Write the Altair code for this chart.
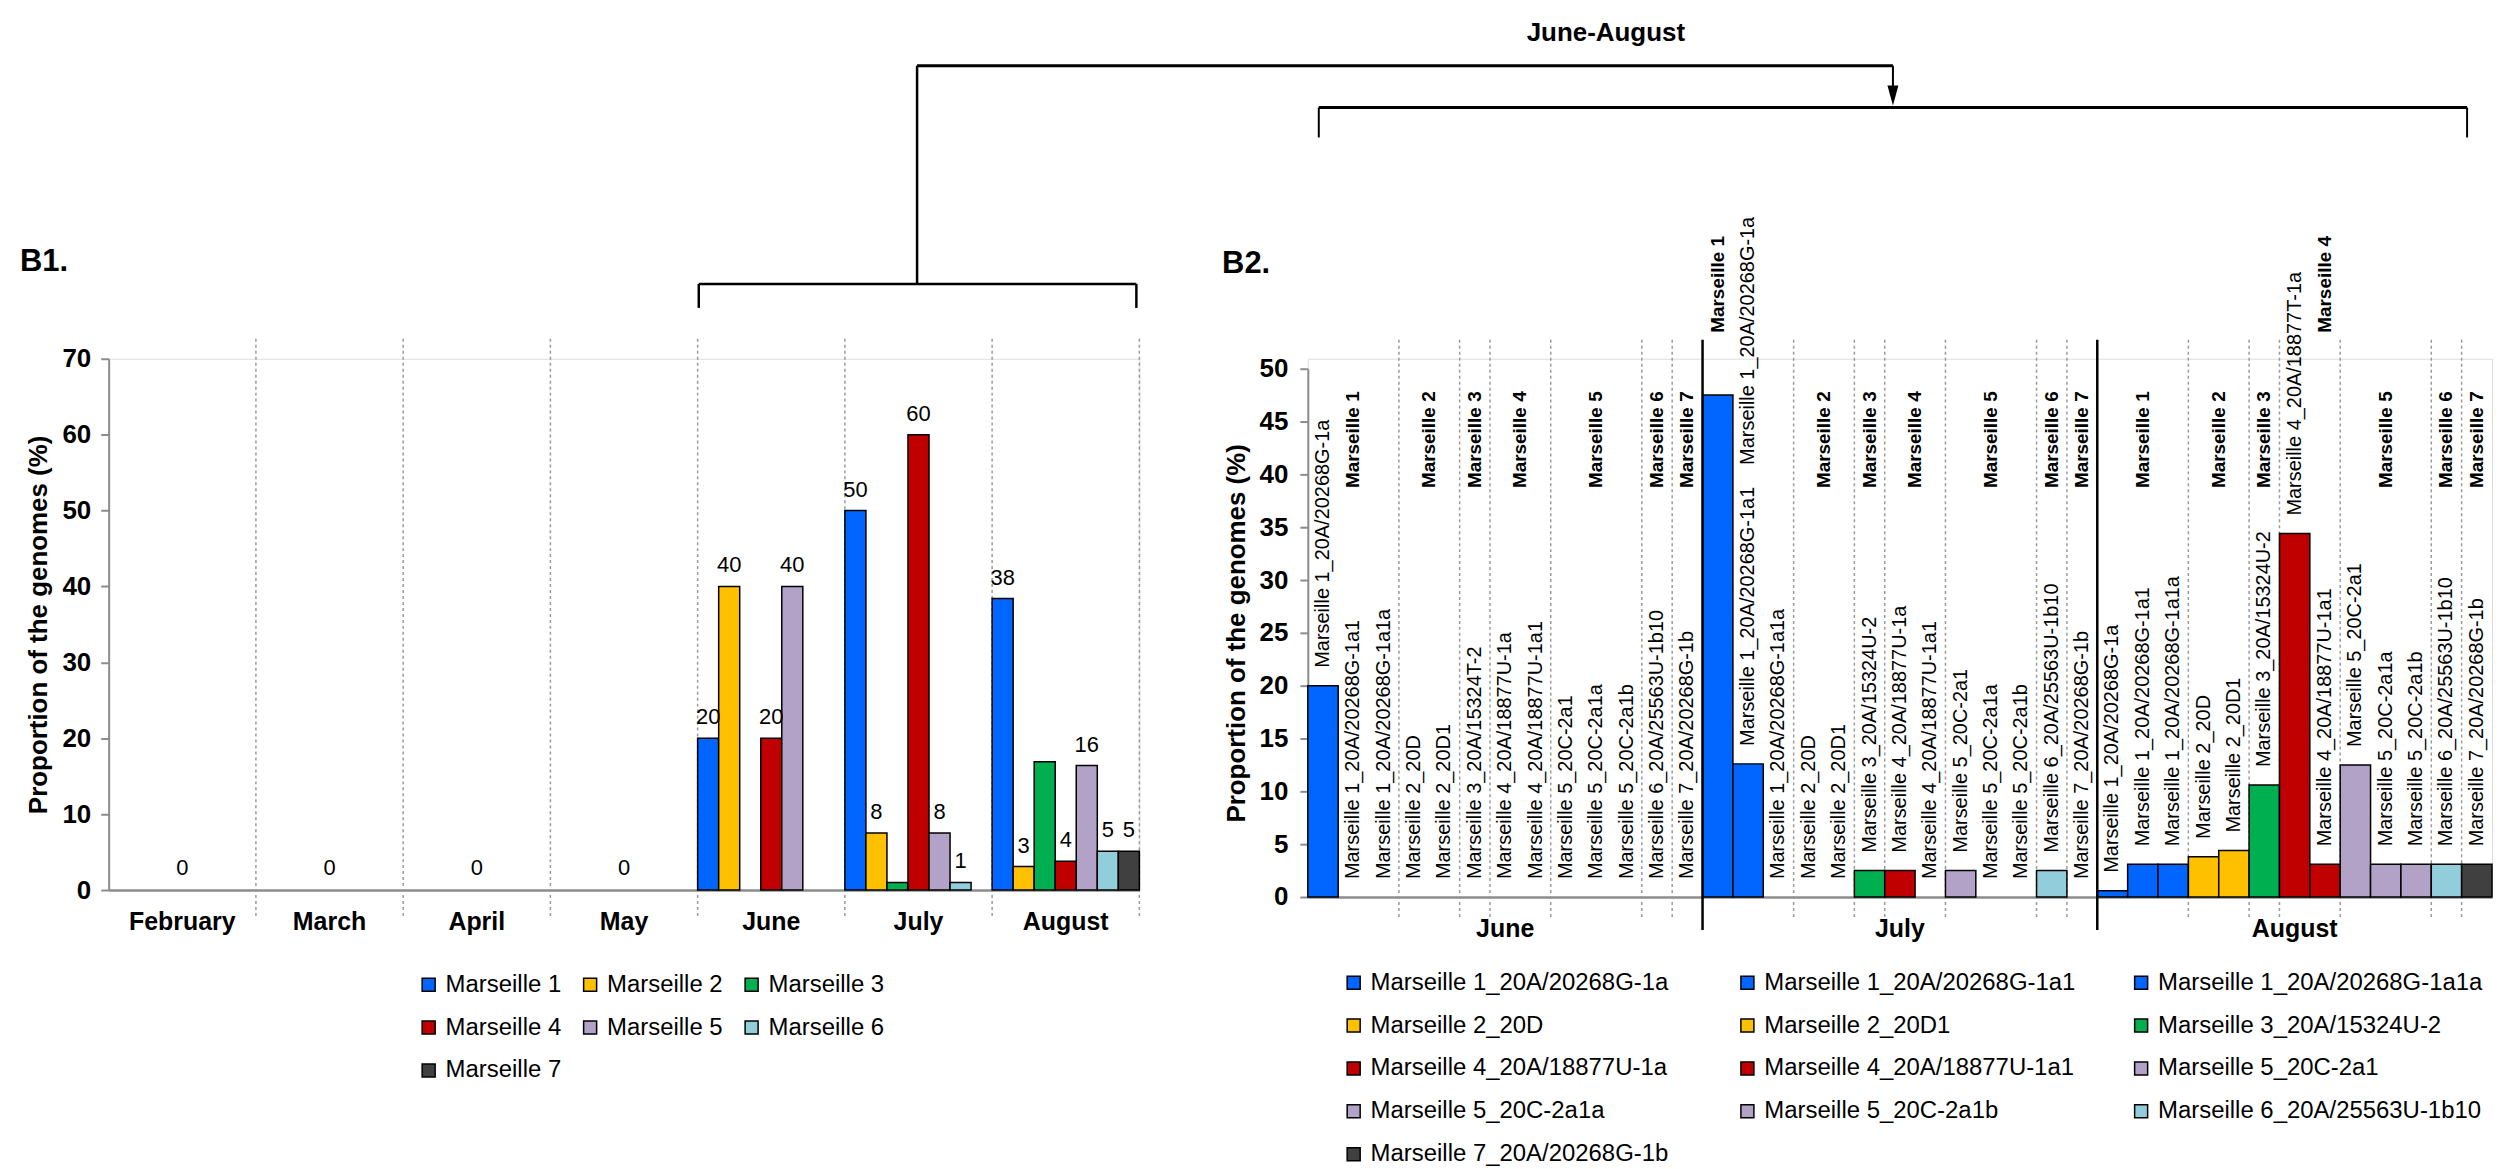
import altair as alt
import pandas as pd

# ------------------------------------------------------------------ data
# B1: proportion of genomes per Marseille variant, by month
b1_months = ["February", "March", "April", "May", "June", "July", "August"]
b1_series = ["Marseille 1", "Marseille 2", "Marseille 3", "Marseille 4",
             "Marseille 5", "Marseille 6", "Marseille 7"]
b1_colors = ["#0066FF", "#FFC000", "#00B050", "#C00000", "#B3A2C7", "#92CDDC", "#404040"]

b1_february = [0, 0, 0, 0, 0, 0, 0]
b1_march = [0, 0, 0, 0, 0, 0, 0]
b1_april = [0, 0, 0, 0, 0, 0, 0]
b1_may = [0, 0, 0, 0, 0, 0, 0]
b1_june = [20, 40, 0, 20, 40, 0, 0]
b1_july = [50, 7.5, 1, 60, 7.5, 1, 0]
b1_august = [38.4, 3.1, 16.9, 3.8, 16.4, 5.1, 5.1]

b1_june_labels = ["20", "40", "", "20", "40", "", ""]
b1_july_labels = ["50", "8", "", "60", "8", "1", ""]
b1_august_labels = ["38", "3", "", "4", "16", "5", "5"]
b1_empty_months = ["February", "March", "April", "May"]
b1_empty_labels = ["0", "0", "0", "0"]

# B2: proportion of genomes per sub-lineage, June-August
b2_months = ["June", "July", "August"]
b2_legend_names = [
    "Marseille 1_20A/20268G-1a", "Marseille 1_20A/20268G-1a1", "Marseille 1_20A/20268G-1a1a",
    "Marseille 2_20D", "Marseille 2_20D1", "Marseille 3_20A/15324U-2",
    "Marseille 4_20A/18877U-1a", "Marseille 4_20A/18877U-1a1", "Marseille 5_20C-2a1",
    "Marseille 5_20C-2a1a", "Marseille 5_20C-2a1b", "Marseille 6_20A/25563U-1b10",
    "Marseille 7_20A/20268G-1b"]
b2_colors = ["#0066FF", "#0066FF", "#0066FF", "#FFC000", "#FFC000", "#00B050",
             "#C00000", "#C00000", "#B3A2C7", "#B3A2C7", "#B3A2C7", "#92CDDC", "#404040"]
b2_group_of_slot = [1, 1, 1, 2, 2, 3, 4, 4, 5, 5, 5, 6, 7]

b2_june_names = [
    "Marseille 1_20A/20268G-1a", "Marseille 1_20A/20268G-1a1", "Marseille 1_20A/20268G-1a1a",
    "Marseille 2_20D", "Marseille 2_20D1", "Marseille 3_20A/15324T-2",
    "Marseille 4_20A/18877U-1a", "Marseille 4_20A/18877U-1a1", "Marseille 5_20C-2a1",
    "Marseille 5_20C-2a1a", "Marseille 5_20C-2a1b", "Marseille 6_20A/25563U-1b10",
    "Marseille 7_20A/20268G-1b"]
b2_july_names = [
    "Marseille 1_20A/20268G-1a", "Marseille 1_20A/20268G-1a1", "Marseille 1_20A/20268G-1a1a",
    "Marseille 2_20D", "Marseille 2_20D1", "Marseille 3_20A/15324U-2",
    "Marseille 4_20A/18877U-1a", "Marseille 4_20A/18877U-1a1", "Marseille 5_20C-2a1",
    "Marseille 5_20C-2a1a", "Marseille 5_20C-2a1b", "Marseille 6_20A/25563U-1b10",
    "Marseille 7_20A/20268G-1b"]
b2_august_names = [
    "Marseille 1_20A/20268G-1a", "Marseille 1_20A/20268G-1a1", "Marseille 1_20A/20268G-1a1a",
    "Marseille 2_20D", "Marseille 2_20D1", "Marseille 3_20A/15324U-2",
    "Marseille 4_20A/18877T-1a", "Marseille 4_20A/18877U-1a1", "Marseille 5_20C-2a1",
    "Marseille 5_20C-2a1a", "Marseille 5_20C-2a1b", "Marseille 6_20A/25563U-1b10",
    "Marseille 7_20A/20268G-1b"]
b2_june = [20, 0, 0, 0, 0, 0, 0, 0, 0, 0, 0, 0, 0]
b2_july = [47.5, 12.6, 0, 0, 0, 2.5, 2.5, 0, 2.5, 0, 0, 2.5, 0]
b2_august = [0.6, 3.1, 3.1, 3.8, 4.4, 10.6, 34.4, 3.1, 12.5, 3.1, 3.1, 3.1, 3.1]

# ------------------------------------------------------------------ layout
FONT = "Liberation Sans, Arial, sans-serif"
NARROW = "Liberation Sans Narrow, Arial Narrow, Liberation Sans, sans-serif"
GRAY = "#8c8c8c"
DOT = "#9a9a9a"

OX1, OY = 108, 357           # B1 plot origin on the page
W1, H1 = 1034, 533
OX2 = 1311                   # B2 plot left on the page
W2, H2 = 1188, 540
Y2TOP = 10                   # B2 "50" sits 10 px below the common top
SPACING = OX2 - (OX1 + W1)
PX2 = (H2 - Y2TOP) / 50.0    # px per unit in B2
NSLOT = len(b2_legend_names)

ONE = pd.DataFrame({"k": [0]})

# ------------------------------------------------------------------ B1
rows = []
for m, vals, labs in zip(b1_months,
                         [b1_february, b1_march, b1_april, b1_may, b1_june, b1_july, b1_august],
                         [[""] * 7] * 4 + [b1_june_labels, b1_july_labels, b1_august_labels]):
    for s, v, l in zip(b1_series, vals, labs):
        rows.append({"month": m, "series": s, "value": v, "label": l})
b1 = pd.DataFrame(rows)
b1_bars = b1[b1["value"] > 0]
b1_lab = b1[b1["label"] != ""]
b1_zero = pd.DataFrame({"month": b1_empty_months, "value": [0] * 4, "label": b1_empty_labels})

xs1 = alt.Scale(domain=b1_months, paddingInner=0, paddingOuter=0)
xos1 = alt.Scale(domain=b1_series, paddingInner=0, paddingOuter=0)
ys1 = alt.Scale(domain=[0, 70], nice=False)
ax_x1 = alt.Axis(title=None, labelAngle=0, labelFont=FONT, labelFontSize=25,
                 labelFontWeight="bold", labelColor="black", labelPadding=20,
                 ticks=False, domainColor=GRAY, domainWidth=2.5, grid=False)
ax_y1 = alt.Axis(values=list(range(0, 71, 10)), title="Proportion of the genomes (%)",
                 grid=False, domainColor=GRAY, domainWidth=2, tickColor=GRAY,
                 tickWidth=2, tickSize=8, labelFont=FONT, labelFontSize=26,
                 labelFontWeight="bold", labelColor="black", labelPadding=10,
                 titleFont=FONT, titleFontSize=26, titleFontWeight="bold",
                 titleColor="black", titlePadding=10)
X1 = alt.X("month:N", scale=xs1, axis=ax_x1)
Y1 = alt.Y("value:Q", scale=ys1, axis=ax_y1)
XO1 = alt.XOffset("series:N", scale=xos1)

sep1 = alt.Chart(pd.DataFrame({"month": b1_months[1:]})).mark_rule(
    color=DOT, strokeWidth=1.5, strokeDash=[3, 3]).encode(
    x=alt.X("month:N", scale=xs1, axis=ax_x1, bandPosition=0),
    y=alt.value(337 - OY), y2=alt.value(918 - OY))
sep1_end = alt.Chart(pd.DataFrame({"month": b1_months[-1:]})).mark_rule(
    color=DOT, strokeWidth=1.5, strokeDash=[3, 3]).encode(
    x=alt.X("month:N", scale=xs1, axis=ax_x1, bandPosition=1),
    y=alt.value(337 - OY), y2=alt.value(918 - OY))

leg1 = alt.Legend(orient="none", legendX=417 - OX1, legendY=973 - OY, columns=3,
                  direction="horizontal", columnPadding=16, rowPadding=19,
                  symbolType="square", symbolSize=170,
                  symbolStrokeColor="black", symbolStrokeWidth=1.5, labelFont=FONT,
                  labelFontSize=24, labelColor="black", labelLimit=500, labelOffset=5,
                  title=None, padding=0)
bars1 = alt.Chart(b1_bars).mark_bar(stroke="black", strokeWidth=1.5).encode(
    x=X1, xOffset=XO1, y=Y1,
    color=alt.Color("series:N", scale=alt.Scale(domain=b1_series, range=b1_colors), legend=leg1))
labels1 = alt.Chart(b1_lab).mark_text(font=NARROW, fontSize=22, baseline="alphabetic",
                                      dy=-14, color="black").encode(
    x=X1, xOffset=XO1, y=Y1, text="label:N")
zero1 = alt.Chart(b1_zero).mark_text(font=NARROW, fontSize=22, baseline="alphabetic",
                                     dy=-15, color="black").encode(
    x=X1, y=Y1, text="label:N")


def rule(x0, y0, x1, y1, w=2.5):
    return alt.Chart(ONE).mark_rule(color="black", strokeWidth=w).encode(
        x=alt.value(x0 - OX1), x2=alt.value(x1 - OX1),
        y=alt.value(y0 - OY), y2=alt.value(y1 - OY))


def label(text, x, y, size, align="center", weight="bold"):
    return alt.Chart(ONE).mark_text(text=text, font=FONT, fontSize=size, fontWeight=weight,
                                    align=align, baseline="middle", color="black").encode(
        x=alt.value(x - OX1), y=alt.value(y - OY))


annotations = [
    rule(919, 63, 1898, 63, 3),
    rule(919, 63, 919, 282),
    rule(1898, 63, 1898, 92, 2),
    alt.Chart(ONE).mark_point(shape="M-0.55,-1L0.55,-1L0,1Z", filled=True, color="black",
                              size=400, opacity=1).encode(
        x=alt.value(1898 - OX1), y=alt.value(93 - OY)),
    rule(1322, 105, 2474, 105, 3),
    rule(1322, 105, 1322, 135, 2),
    rule(2474, 105, 2474, 135, 2),
    rule(700, 282, 1139, 282, 2.5),
    rule(700, 282, 700, 306, 2.5),
    rule(1139, 282, 1139, 306, 2.5),
    label("B1.", 19, 260, 31, align="left"),
    label("B2.", 1225, 262, 31, align="left"),
    label("June-August", 1610, 30, 26),
]

chart1 = alt.layer(sep1, sep1_end, bars1, labels1, zero1, *annotations).properties(
    width=W1, height=H1)

# ------------------------------------------------------------------ B2
GAP_UNITS = 18 / PX2           # labels start 18 px above their bar
STACK_UNITS = 26.6             # neighbour label length + gap, in data units
BOLD_Y, BOLD_Y_HIGH = 38.7, 53.4

rows2, bold_rows = [], []
for mi, (m, names, vals) in enumerate(zip(b2_months,
                                          [b2_june_names, b2_july_names, b2_august_names],
                                          [b2_june, b2_july, b2_august])):
    moved = set()
    for si in range(NSLOT):
        slot = mi * NSLOT + si
        v = vals[si]
        xc, ys = slot + 0.5, v + GAP_UNITS
        if v > 40 and si + 1 < NSLOT:       # too tall: stack the label over the neighbour
            xc = slot + 1.5
            ys = vals[si + 1] + GAP_UNITS + STACK_UNITS
            moved.add(si)
        rows2.append({"month": m, "x0": slot, "x1": slot + 1, "xc": xc, "ystart": ys,
                      "value": v, "label": names[si], "lineage": b2_legend_names[si]})
    for g in range(1, 8):
        slots = [si for si in range(NSLOT) if b2_group_of_slot[si] == g]
        tall = [si for si in slots if vals[si] > 30]
        if tall and tall[0] in moved:
            xc, yb = mi * NSLOT + tall[0] + 0.5, BOLD_Y_HIGH
        elif tall:
            xc, yb = mi * NSLOT + tall[0] + 1.5, BOLD_Y_HIGH
        else:
            xc, yb = mi * NSLOT + sum(slots) / len(slots) + 0.5, BOLD_Y
        bold_rows.append({"xc": xc, "yb": yb, "text": "Marseille %d" % g})

b2 = pd.DataFrame(rows2)
b2_bars = b2[b2["value"] > 0]
b2_bold = pd.DataFrame(bold_rows)
b2_month_df = pd.DataFrame({"month": b2_months,
                            "xc": [i * NSLOT + NSLOT / 2 for i in range(3)]})
inner = [3, 5, 6, 8, 11, 12]
b2_dotted = pd.DataFrame({"xb": [mi * NSLOT + b for mi in range(3) for b in inner]})
b2_solid = pd.DataFrame({"xb": [NSLOT, 2 * NSLOT]})

xs2 = alt.Scale(domain=[0, 3 * NSLOT], nice=False, zero=False)
ys2 = alt.Scale(domain=[0, 50], range=[H2, Y2TOP], nice=False)
ax_x2 = alt.Axis(labels=False, ticks=False, grid=False, title=None,
                 domainColor=GRAY, domainWidth=2.5)
ax_y2 = alt.Axis(values=list(range(0, 51, 5)), title="Proportion of the genomes (%)",
                 grid=False, domainColor=GRAY, domainWidth=2, tickColor=GRAY,
                 tickWidth=2, tickSize=8, labelFont=FONT, labelFontSize=26,
                 labelFontWeight="bold", labelColor="black", labelPadding=12,
                 titleFont=FONT, titleFontSize=26, titleFontWeight="bold",
                 titleColor="black", titlePadding=10)

dotted2 = alt.Chart(b2_dotted).mark_rule(color=DOT, strokeWidth=1.5, strokeDash=[3, 3]).encode(
    x=alt.X("xb:Q", scale=xs2, axis=ax_x2), y=alt.value(338 - OY), y2=alt.value(920 - OY))
solid2 = alt.Chart(b2_solid).mark_rule(color="black", strokeWidth=2.5).encode(
    x=alt.X("xb:Q", scale=xs2, axis=ax_x2), y=alt.value(338 - OY), y2=alt.value(930 - OY))

leg2 = alt.Legend(orient="none", legendX=1345 - OX2, legendY=971 - OY, columns=3,
                  direction="horizontal", gridAlign="all", columnPadding=40, rowPadding=19,
                  symbolType="square",
                  symbolSize=170, symbolStrokeColor="black", symbolStrokeWidth=1.5,
                  labelFont=FONT, labelFontSize=24, labelColor="black", labelLimit=600,
                  labelOffset=5, title=None, padding=0)
bars2 = alt.Chart(b2_bars).mark_bar(stroke="black", strokeWidth=1.5).encode(
    x=alt.X("x0:Q", scale=xs2, axis=ax_x2), x2="x1:Q",
    y=alt.Y("value:Q", scale=ys2, axis=ax_y2), y2=alt.datum(0),
    color=alt.Color("lineage:N", scale=alt.Scale(domain=b2_legend_names, range=b2_colors),
                    legend=leg2))
names2 = alt.Chart(b2).mark_text(font=FONT, fontSize=20, angle=270, align="left",
                                 baseline="middle", color="black").encode(
    x=alt.X("xc:Q", scale=xs2, axis=ax_x2), y=alt.Y("ystart:Q", scale=ys2, axis=ax_y2),
    text="label:N")
bold2 = alt.Chart(b2_bold).mark_text(font=FONT, fontSize=19, fontWeight="bold", angle=270,
                                     align="left", baseline="middle", color="black").encode(
    x=alt.X("xc:Q", scale=xs2, axis=ax_x2), y=alt.Y("yb:Q", scale=ys2, axis=ax_y2),
    text="text:N")
months2 = alt.Chart(b2_month_df).mark_text(font=FONT, fontSize=25, fontWeight="bold",
                                           baseline="middle", color="black").encode(
    x=alt.X("xc:Q", scale=xs2, axis=ax_x2), y=alt.value(929 - OY), text="month:N")

chart2 = alt.layer(dotted2, bars2, solid2, names2, bold2, months2).properties(
    width=W2, height=H2)

chart = alt.hconcat(chart1, chart2, spacing=SPACING, bounds="flush").resolve_scale(
    color="independent", x="independent", y="independent", xOffset="independent"
).properties(
    padding={"left": 11, "top": 9, "right": 0, "bottom": 0}
).configure_view(stroke=None).configure(font=FONT)

chart.save("out.html", embed_options={"renderer": "svg", "actions": False})
